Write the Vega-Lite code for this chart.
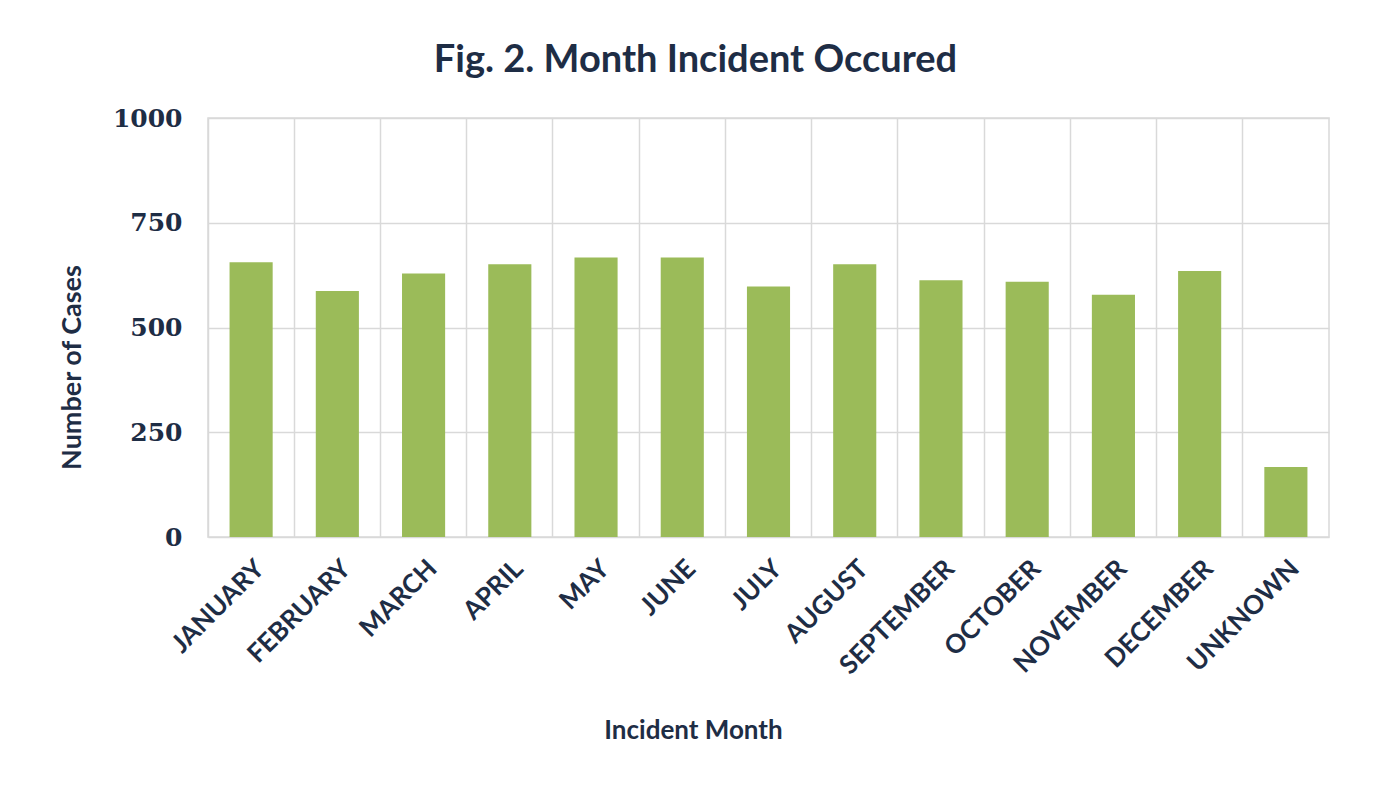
{
  "$schema": "https://vega.github.io/schema/vega-lite/v6.json",
  "width": 1121,
  "height": 419,
  "autosize": {"type": "none"},
  "padding": {"left": 208, "top": 118, "right": 50, "bottom": 248},
  "background": "white",
  "title": {
    "text": "Fig. 2. Month Incident Occured",
    "font": "Lato",
    "fontSize": 38,
    "fontWeight": "bold",
    "color": "#1e2d45",
    "anchor": "middle",
    "dx": -73,
    "offset": 26
  },
  "data": {
    "values": [
      {"month": "JANUARY", "cases": 656},
      {"month": "FEBRUARY", "cases": 587},
      {"month": "MARCH", "cases": 629},
      {"month": "APRIL", "cases": 651},
      {"month": "MAY", "cases": 667},
      {"month": "JUNE", "cases": 667},
      {"month": "JULY", "cases": 598},
      {"month": "AUGUST", "cases": 651},
      {"month": "SEPTEMBER", "cases": 613},
      {"month": "OCTOBER", "cases": 609},
      {"month": "NOVEMBER", "cases": 578},
      {"month": "DECEMBER", "cases": 635},
      {"month": "UNKNOWN", "cases": 167}
    ]
  },
  "mark": {"type": "bar", "color": "#9bbb59", "width": {"band": 0.5}},
  "encoding": {
    "x": {
      "field": "month",
      "type": "nominal",
      "sort": null,
      "scale": {"paddingInner": 0, "paddingOuter": 0},
      "axis": {
        "title": "Incident Month",
        "titleFont": "Lato",
        "titleFontSize": 26,
        "titleFontWeight": "bold",
        "titleColor": "#1e2d45",
        "titleX": 485,
        "titleY": 193,
        "titleBaseline": "middle",
        "labelAngle": -45,
        "labelFont": "Lato",
        "labelFontSize": 26,
        "labelFontWeight": "bold",
        "labelColor": "#1e2d45",
        "labelPadding": 18,
        "ticks": false,
        "domain": false,
        "grid": true,
        "bandPosition": 0,
        "gridColor": "#d9d9d9",
        "gridWidth": 1.5
      }
    },
    "y": {
      "field": "cases",
      "type": "quantitative",
      "scale": {"domain": [0, 1000]},
      "axis": {
        "values": [0, 250, 500, 750, 1000],
        "format": "d",
        "title": "Number of Cases",
        "titleFont": "Lato",
        "titleFontSize": 27,
        "titleFontWeight": "bold",
        "titleColor": "#1e2d45",
        "titleX": -136,
        "titleY": 249,
        "titleBaseline": "middle",
        "titleAlign": "center",
        "labelFont": "DejaVu Serif",
        "labelFontSize": 25,
        "labelFontWeight": "bold",
        "labelColor": "#1e2d45",
        "labelPadding": 26,
        "ticks": false,
        "domain": false,
        "grid": true,
        "gridColor": "#d9d9d9",
        "gridWidth": 1.5
      }
    }
  },
  "config": {
    "view": {"stroke": "#d9d9d9", "strokeWidth": 1.5}
  }
}
